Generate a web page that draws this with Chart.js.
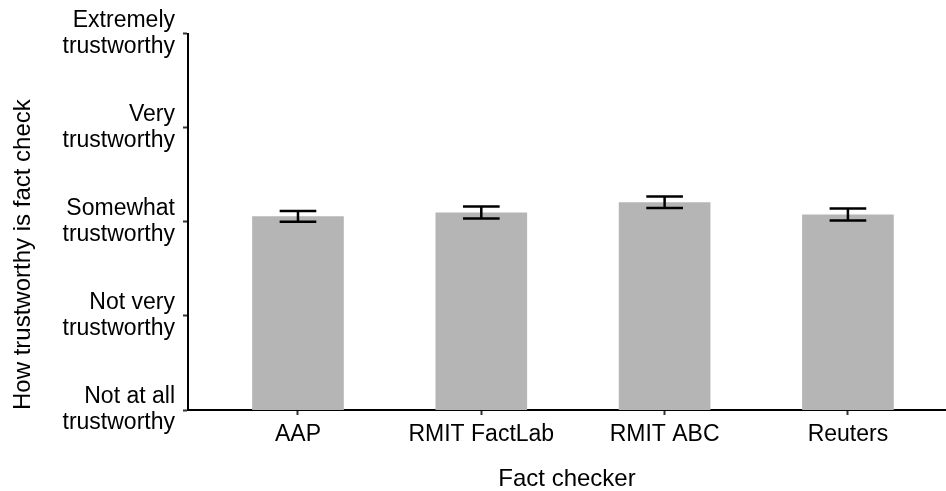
<!DOCTYPE html>
<html>
<head>
<meta charset="utf-8">
<script src="https://cdn.jsdelivr.net/npm/chart.js@4/dist/chart.umd.min.js"></script>
<style>
  html, body { margin: 0; padding: 0; background: #fff; overflow: hidden; }
  #wrap { width: 946px; height: 491px; }
</style>
</head>
<body>
<div id="wrap"><canvas id="myChart" width="946" height="491"></canvas></div>
<script>
const categories = ["AAP", "RMIT FactLab", "RMIT ABC", "Reuters"];
const means = [3.06, 3.10, 3.21, 3.08];
const errors = [0.057, 0.064, 0.061, 0.064];
const yTickValues = [1, 2, 3, 4, 5];
const yTickLabels = [
    ["Not at all", "trustworthy"],
    ["Not very", "trustworthy"],
    ["Somewhat", "trustworthy"],
    ["Very", "trustworthy"],
    ["Extremely", "trustworthy"]
];

const fontFamily = "'Liberation Sans', Arial, sans-serif";

// error bars drawn through the y scale
const errorBars = {
    id: "errorBars",
    afterDatasetsDraw(chart) {
        const ctx = chart.ctx;
        const yScale = chart.scales.y;
        const meta = chart.getDatasetMeta(0);
        ctx.save();
        ctx.strokeStyle = "#000";
        ctx.lineWidth = 2.5;
        meta.data.forEach((bar, i) => {
            const x = bar.x;
            const hi = yScale.getPixelForValue(means[i] + errors[i]);
            const lo = yScale.getPixelForValue(means[i] - errors[i]);
            const half = bar.width * 0.2;
            ctx.beginPath();
            ctx.moveTo(x, hi); ctx.lineTo(x, lo);
            ctx.moveTo(x - half, hi); ctx.lineTo(x + half, hi);
            ctx.moveTo(x - half, lo); ctx.lineTo(x + half, lo);
            ctx.stroke();
        });
        ctx.restore();
    }
};

new Chart("myChart", {
    type: "bar",
    data: {
        datasets: [{
            data: means.map((v, i) => ({ x: i, y: v })),
            backgroundColor: "#b5b5b5",
            borderWidth: 0,
            barPercentage: 0.5,
            categoryPercentage: 1.0
        }]
    },
    plugins: [errorBars],
    options: {
        responsive: false,
        animation: false,
        layout: { padding: { top: 33, right: 0, bottom: 0, left: 0 } },
        plugins: {
            legend: { display: false },
            tooltip: { enabled: false }
        },
        scales: {
            x: {
                type: "linear",
                offset: false,
                min: -0.6,
                max: 3.535,
                afterBuildTicks: s => { s.ticks = categories.map((c, i) => ({ value: i })); },
                afterFit: s => { s.height = 81; },
                ticks: {
                    callback: v => categories[v],
                    color: "#000",
                    padding: 6,
                    maxRotation: 0,
                    font: { family: fontFamily, size: 23 }
                },
                grid: {
                    offset: false,
                    drawOnChartArea: false,
                    drawTicks: true,
                    tickLength: 5,
                    tickColor: "#333",
                    tickWidth: 2
                },
                border: { display: true, color: "#000", width: 2 },
                title: {
                    display: true,
                    text: "Fact checker",
                    color: "#000",
                    padding: { top: 0, bottom: 0 },
                    font: { family: fontFamily, size: 24, lineHeight: 1 }
                }
            },
            y: {
                min: 1,
                max: 5,
                afterBuildTicks: s => { s.ticks = yTickValues.map(v => ({ value: v })); },
                afterFit: s => { s.width = 188; },
                ticks: {
                    callback: v => yTickLabels[yTickValues.indexOf(v)],
                    color: "#000",
                    padding: 8,
                    font: { family: fontFamily, size: 23, lineHeight: 1.13 }
                },
                grid: {
                    drawOnChartArea: false,
                    drawTicks: true,
                    tickLength: 5,
                    tickColor: "#333",
                    tickWidth: 2
                },
                border: { display: true, color: "#000", width: 2 },
                title: {
                    display: true,
                    text: "How trustworthy is fact check",
                    align: "start",
                    color: "#000",
                    padding: { top: 11, bottom: 0 },
                    font: { family: fontFamily, size: 24, lineHeight: 1 }
                }
            }
        }
    }
});
</script>
</body>
</html>
